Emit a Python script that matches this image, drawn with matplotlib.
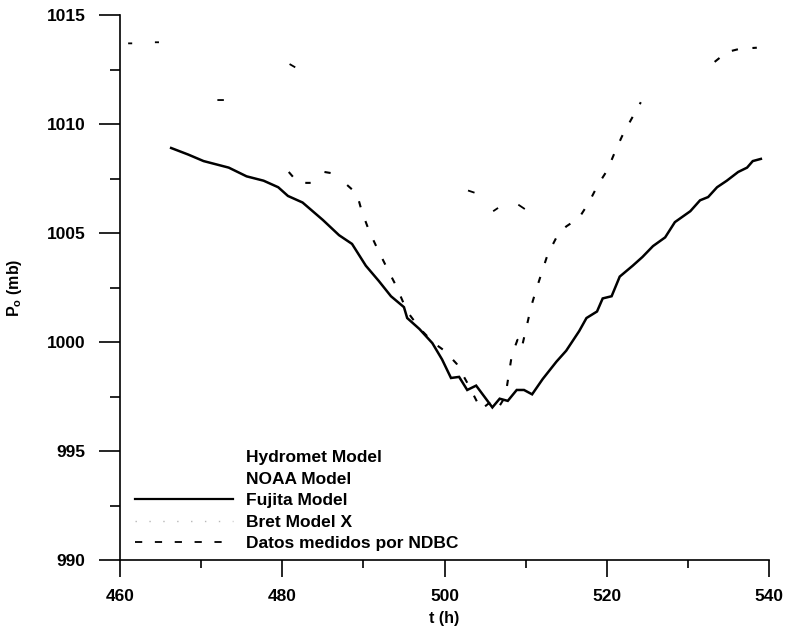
import numpy as np
import matplotlib
matplotlib.use("Agg")
import matplotlib.pyplot as plt
from matplotlib.lines import Line2D
from matplotlib.ticker import MultipleLocator

plt.rcParams['font.family'] = ['Liberation Sans', 'DejaVu Sans']
plt.rcParams['font.weight'] = 'bold'
plt.rcParams['mathtext.default'] = 'regular'

# Fujita model: central pressure vs time
t_fujita = [466.3, 468.4, 470.3, 473.4, 475.6, 477.7, 479.5, 480.7, 482.5, 485.0,
            487.0, 488.6, 490.3, 491.9, 493.4, 495.0, 495.4, 496.9, 498.5, 499.7,
            500.8, 501.8, 502.8, 503.9, 504.9, 505.9, 506.8, 507.8, 508.9, 509.8,
            510.8, 512.1, 513.8, 515.0, 516.6, 517.5, 518.8, 519.5, 520.6, 521.6,
            523.2, 524.4, 525.7, 527.2, 528.4, 530.3, 531.5, 532.5, 533.6, 534.8,
            536.2, 537.3, 538.0, 539.0]
p_fujita = [1008.9, 1008.6, 1008.3, 1008.0, 1007.6, 1007.4, 1007.1, 1006.7, 1006.4, 1005.6,
            1004.9, 1004.5, 1003.5, 1002.8, 1002.1, 1001.6, 1001.1, 1000.6, 999.95, 999.2,
            998.35, 998.4, 997.8, 998.0, 997.5, 997.0, 997.4, 997.3, 997.8, 997.8,
            997.6, 998.3, 999.1, 999.6, 1000.5, 1001.1, 1001.4, 1002.0, 1002.1, 1003.0,
            1003.5, 1003.9, 1004.4, 1004.8, 1005.5, 1006.0, 1006.5, 1006.65, 1007.1, 1007.4,
            1007.8, 1008.0, 1008.3, 1008.4]

# NDBC buoy measurements (NaN marks missing records)
t_ndbc = [480.8, 481.5, 482.3, 483.5, np.nan,
          485.2, 486.0, np.nan,
          488.0, 489.2, 489.8, 490.7, 491.7, 492.9, 494.0, 495.4, 497.0, 498.7,
          500.0, 501.5, 503.0, 504.5, 505.5, 506.5, 507.5, 508.3, 509.0, 509.5,
          510.7, 511.3, 512.0, 512.7, 513.8, 515.0, 516.6, 517.8, 518.9, 520.1,
          521.1, 521.9, 523.0, 524.2, np.nan,
          533.3, 534.8, 536.4, 538.5]
p_ndbc = [1007.8, 1007.5, 1007.3, 1007.3, np.nan,
          1007.8, 1007.75, np.nan,
          1007.2, 1006.8, 1006.0, 1005.1, 1004.3, 1003.4, 1002.6, 1001.4, 1000.6, 999.95,
          999.6, 999.0, 998.0, 996.9, 997.2, 996.9, 997.5, 999.4, 1000.1, 999.7,
          1001.65, 1002.4, 1003.2, 1004.0, 1004.8, 1005.3, 1005.7, 1006.4, 1007.2, 1007.9,
          1008.8, 1009.45, 1010.2, 1011.0, np.nan,
          1012.85, 1013.3, 1013.45, 1013.5]

# Light-coloured model curves: only short pieces print
t_light = [461.0, 461.5, np.nan, 464.3, 464.8, np.nan, 472.0, 472.8, np.nan,
           480.9, 481.6, np.nan, 502.9, 503.7, np.nan, 506.0, 506.6, np.nan,
           509.1, 509.9]
p_light = [1013.7, 1013.7, np.nan, 1013.75, 1013.75, np.nan, 1011.1, 1011.1, np.nan,
           1012.75, 1012.6, np.nan, 1006.95, 1006.85, np.nan, 1006.0, 1006.15, np.nan,
           1006.3, 1006.1]

labels = ["Hydromet Model", "NOAA Model", "Fujita Model", "Bret Model X",
          "Datos medidos por NDBC"]

fig = plt.figure(figsize=(7.85, 6.31), dpi=100)
ax = fig.add_axes([0.1529, 0.1125, 0.8267, 0.8637])

ax.plot(t_fujita, p_fujita, color='black', lw=1.8, solid_joinstyle='miter')
ax.plot(t_ndbc, p_ndbc, color='black', lw=1.5, linestyle=(0, (3, 7)))
ax.plot(t_light, p_light, color='black', lw=1.3, solid_capstyle='butt')

ax.set_xlim(460, 540)
ax.set_ylim(990, 1015)
ax.xaxis.set_major_locator(MultipleLocator(20))
ax.xaxis.set_minor_locator(MultipleLocator(10))
ax.yaxis.set_major_locator(MultipleLocator(5))
ax.yaxis.set_minor_locator(MultipleLocator(2.5))

for side in ('top', 'right'):
    ax.spines[side].set_visible(False)
for side in ('left', 'bottom'):
    ax.spines[side].set_linewidth(1.2)

ax.tick_params(axis='y', which='major', direction='out', length=15, width=1.2,
               labelsize=12.5, pad=10)
ax.tick_params(axis='y', which='minor', direction='out', length=7, width=1.2)
ax.tick_params(axis='x', which='major', direction='out', length=12, width=1.2,
               labelsize=12.5, pad=9)
ax.tick_params(axis='x', which='minor', direction='out', length=6, width=1.2)
for lab in ax.get_xticklabels() + ax.get_yticklabels():
    lab.set_fontweight('bold')

ax.set_xlabel("t (h)", fontsize=11.5, fontweight='bold', labelpad=5)
ax.set_ylabel("P$_{o}$ (mb)", fontsize=11.5, fontweight='bold', labelpad=16)

handles = [
    Line2D([], [], color='none'),
    Line2D([], [], color='none'),
    Line2D([], [], color='black', lw=1.6),
    Line2D([], [], color='#b8b8b8', lw=1.0, linestyle=(0, (1, 9))),
    Line2D([], [], color='black', lw=1.3, linestyle=(0, (4, 7))),
]
leg = ax.legend(handles, labels, loc='lower left', bbox_to_anchor=(0.013, 0.003),
                frameon=False, fontsize=12.5, handlelength=5.6, handletextpad=0.75,
                labelspacing=0.37, borderaxespad=0.0)
for txt in leg.get_texts():
    txt.set_fontweight('bold')

fig.savefig("out.png", dpi=100)
